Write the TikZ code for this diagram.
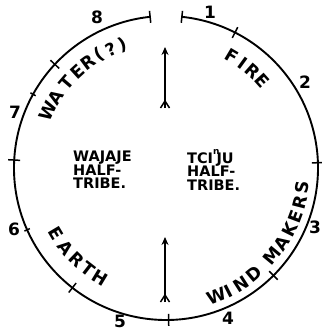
\documentclass[tikz,border=0pt]{standalone}
\usepackage{fontspec}
\setmainfont{DejaVu Sans}
\usetikzlibrary{arrows.meta}
\begin{document}
\begin{tikzpicture}[x=1pt,y=1pt,
  ring/.style={line width=1.9pt},
  tickmark/.style={line width=1.5pt},
  num/.style={font=\fontsize{17}{17}\selectfont\bfseries, inner sep=0pt},
  arclab/.style={font=\fontsize{17.5}{17.5}\selectfont\bfseries, inner sep=0pt},
  ctr/.style={font=\fontsize{14.5}{13.5}\selectfont\bfseries, align=left, inner sep=0pt},
  shaft/.style={line width=1.6pt, -{Stealth[length=8pt,width=7pt]}},
]
\useasboundingbox (-166,-163) rectangle (155,168);
\coordinate (c) at (0,0);
% ring
\draw[ring] (84:152) arc[start angle=84, end angle=-264, radius=152];
\foreach \a in {84,63,2,-45,-89,-128,177,137,96}
  \draw[tickmark] (\a:146) -- (\a:158);
\foreach \a in {151,204}
  \draw[tickmark] (\a:149) -- (\a:155);
% numbers
\node[num] (n1) at (44,156) {1};
\node[num] (n2) at (139,86) {2};
\node[num] (n3) at (149,-59) {3};
\node[num] (n4) at (62,-150) {4};
\node[num] (n5) at (-46,-153) {5};
\node[num] (n6) at (-152,-61) {6};
\node[num] (n7) at (-151,56) {7};
\node[num] (n8) at (-69,151) {8};
% arc labels
\foreach \ch/\a [count=\i] in {W/154,A/147.5,T/139.5,E/132.5,R/126.5,{(}/120.5,?/115,{)}/109.5}
  \node[arclab, rotate=\a-90] (wa\i) at (\a:131) {\ch};
\foreach \ch/\a [count=\i] in {F/59.3,I/54,R/48.4,E/42}
  \node[arclab, rotate=\a-90] (fi\i) at (\a:130) {\ch};
\foreach \ch/\a [count=\i] in {E/210.7,A/218.6,R/226,T/232.3,H/238.8}
  \node[arclab, rotate=\a+90] (ea\i) at (\a:128) {\ch};
\foreach \ch/\a [count=\i] in {W/-68.6,I/-63,N/-57.2,D/-50.2,M/-39.6,A/-32.9,K/-26.6,E/-20.5,R/-14.4,S/-8.2}
  \node[arclab, rotate=\a+90] (wm\i) at (\a:138) {\ch};
% centre texts
\node[ctr, anchor=west] (wl) at (-93,-2) {WAJAJE\\HALF-\\TRIBE.};
\node[ctr, anchor=west] (tl) at (21,-2) {TCI\raisebox{1.1ex}{\fontsize{9}{9}\selectfont n}\kern-3pt JU\\HALF-\\TRIBE.};
% arrows
\coordinate (a1) at (-1,60);
\coordinate (a2) at (-1,121);
\draw[shaft] (a1) -- (a2);
\coordinate (a1l) at (-5.5,60);
\coordinate (a1r) at (3.5,60);
\coordinate (a1m) at (-1,67);
\draw[tickmark] (a1l) -- (a1m) -- (a1r);
\coordinate (b1) at (-1,-134);
\coordinate (b2) at (-1,-69);
\draw[shaft] (b1) -- (b2);
\coordinate (b1l) at (-5.5,-134);
\coordinate (b1r) at (3.5,-134);
\coordinate (b1m) at (-1,-127);
\draw[tickmark] (b1l) -- (b1m) -- (b1r);
\end{tikzpicture}
\end{document}
